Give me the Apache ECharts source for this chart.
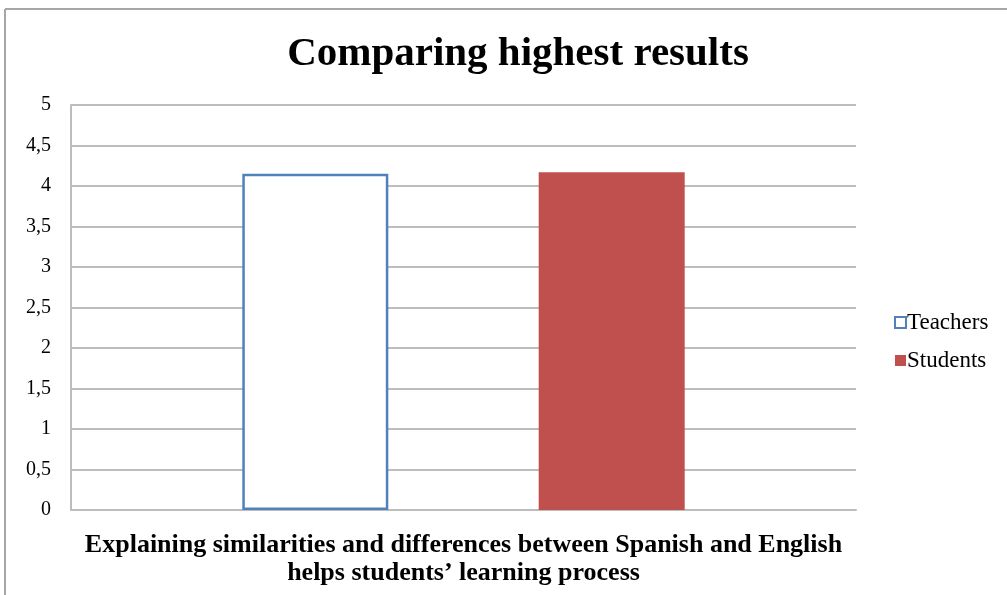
<!DOCTYPE html>
<html>
<head>
<meta charset="utf-8">
<script src="https://cdn.jsdelivr.net/npm/echarts@6/dist/echarts.min.js"></script>
<style>
  html, body { margin: 0; padding: 0; background: #fff; }
  #chart { width: 1007px; height: 595px; }
</style>
</head>
<body>
<div id="chart"></div>
<script>
const categories = ['Explaining similarities and differences between Spanish and English\nhelps students\u2019 learning process'];
const seriesNames = ['Teachers', 'Students'];
const teachers = [4.15];
const students = [4.17];
const yTicks = { min: 0, max: 5, interval: 0.5 };

const chart = echarts.init(document.getElementById('chart'));
const serif = '"Liberation Serif", "Times New Roman", serif';

const option = {
  animation: false,
  title: {
    text: 'Comparing highest results',
    left: 513,
    textAlign: 'center',
    top: 29,
    textStyle: { fontFamily: serif, fontWeight: 'bold', fontSize: 41, color: '#000' }
  },
  legend: {
    orient: 'vertical',
    left: 889,
    top: 306,
    itemWidth: 11,
    itemHeight: 11,
    itemGap: 15,
    icon: 'rect',
    textStyle: { fontFamily: serif, fontSize: 23, color: '#000', padding: [0, 0, 0, -4] },
    data: seriesNames
  },
  grid: { left: 71, right: 151, top: 105, bottom: 85 },
  xAxis: {
    type: 'category',
    data: categories,
    axisLine: { lineStyle: { color: '#bdbdbd', width: 2 } },
    axisTick: { show: false },
    axisLabel: {
      margin: 21,
      fontFamily: serif,
      fontWeight: 'bold',
      fontSize: 26,
      lineHeight: 28,
      color: '#000'
    }
  },
  yAxis: {
    type: 'value',
    min: yTicks.min,
    max: yTicks.max,
    interval: yTicks.interval,
    axisLine: { show: true, lineStyle: { color: '#bdbdbd', width: 2 } },
    axisTick: { show: false },
    splitLine: { lineStyle: { color: '#bdbdbd', width: 2 } },
    axisLabel: {
      margin: 20,
      fontFamily: serif,
      fontSize: 20,
      color: '#000',
      formatter: v => String(v).replace('.', ',')
    }
  },
  series: [
    {
      name: seriesNames[0],
      type: 'bar',
      data: teachers,
      barWidth: 146,
      barGap: '103%',
      itemStyle: { color: '#ffffff', borderColor: '#4f81bd', borderWidth: 2.5 }
    },
    {
      name: seriesNames[1],
      type: 'bar',
      data: students,
      barWidth: 146,
      itemStyle: { color: '#c0504d' }
    }
  ],
  graphic: [
    { type: 'line', shape: { x1: 5, y1: 9, x2: 1007, y2: 9 }, style: { stroke: '#a6a6a6', lineWidth: 2 } },
    { type: 'line', shape: { x1: 5, y1: 9, x2: 5, y2: 595 }, style: { stroke: '#a6a6a6', lineWidth: 2 } }
  ]
};
chart.setOption(option);
</script>
</body>
</html>
